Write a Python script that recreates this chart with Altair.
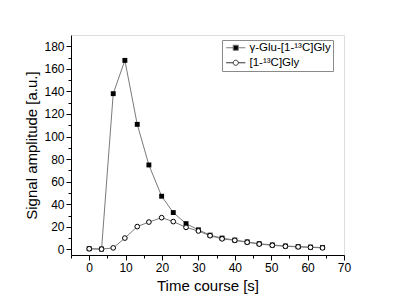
import altair as alt
import pandas as pd

# ---- data ----
time_s = [0, 3.4, 6.6, 9.8, 13.2, 16.4, 19.9, 23.1, 26.6, 30.0,
          33.2, 36.5, 40.0, 43.4, 46.7, 50.3, 53.9, 57.4, 60.8, 64.1]
glu_gly = [0.6, 0.3, 138, 167.5, 110.8, 74.8, 47.1, 32.6, 22.8, 17.3,
           12.6, 10.0, 8.2, 6.6, 5.0, 3.9, 3.0, 2.4, 2.0, 1.6]
gly = [0.5, 0.2, 1.3, 10.0, 20.2, 24.2, 28.1, 24.6, 19.5, 16.3,
       12.1, 9.3, 8.0, 6.3, 4.7, 3.6, 2.7, 2.2, 1.8, 1.3]
series_names = ["γ-Glu-[1-¹³C]Gly", "[1-¹³C]Gly"]

x_major = [0, 10, 20, 30, 40, 50, 60, 70]
x_minor = [-5, 5, 15, 25, 35, 45, 55, 65]
y_major = [0, 20, 40, 60, 80, 100, 120, 140, 160, 180]
y_minor = [10, 30, 50, 70, 90, 110, 130, 150, 170]

rows = []
for t, v in zip(time_s, glu_gly):
    rows.append({"t": t, "value": v, "series": series_names[0]})
for t, v in zip(time_s, gly):
    rows.append({"t": t, "value": v, "series": series_names[1]})
df = pd.DataFrame(rows)

FONT = "Liberation Sans"
xscale = alt.Scale(domain=[-5, 70], nice=False, zero=False)
yscale = alt.Scale(domain=[-5, 190], nice=False, zero=False)

major_x_axis = alt.Axis(values=x_major, title="Time course [s]", grid=False,
                        orient="bottom", tickSize=5, tickColor="black",
                        domainColor="black", labelFontSize=12, labelColor="black",
                        labelPadding=2, titleFontSize=15, titleFontWeight="normal",
                        titleColor="black", titlePadding=5, labelFlush=False)
major_y_axis = alt.Axis(values=y_major, title="Signal amplitude [a.u.]", grid=False,
                        orient="left", tickSize=5, tickColor="black",
                        domainColor="black", labelFontSize=12, labelColor="black",
                        labelPadding=2, titleFontSize=15, titleFontWeight="normal",
                        titleColor="black", titlePadding=4, labelFlush=False)
minor_x_axis = alt.Axis(values=x_minor, title=None, grid=False, orient="bottom",
                        tickSize=3, tickColor="black", labels=False, domain=False)
minor_y_axis = alt.Axis(values=y_minor, title=None, grid=False, orient="left",
                        tickSize=3, tickColor="black", labels=False, domain=False)

base = alt.Chart(df)

lines = base.mark_line(color="#7a7a7a", strokeWidth=1).encode(
    x=alt.X("t:Q", scale=xscale, axis=major_x_axis),
    y=alt.Y("value:Q", scale=yscale, axis=major_y_axis),
    detail="series:N",
)

minor = base.mark_line(opacity=0).encode(
    x=alt.X("t:Q", scale=xscale, axis=minor_x_axis),
    y=alt.Y("value:Q", scale=yscale, axis=minor_y_axis),
    detail="series:N",
)

squares = base.transform_filter(
    alt.datum.series == series_names[0]
).mark_square(size=24, color="black", opacity=1).encode(
    x=alt.X("t:Q", scale=xscale, axis=None),
    y=alt.Y("value:Q", scale=yscale, axis=None),
)

circles = base.transform_filter(
    alt.datum.series == series_names[1]
).mark_point(shape="circle", filled=True, fill="white", stroke="black",
             strokeWidth=1, size=22, opacity=1).encode(
    x=alt.X("t:Q", scale=xscale, axis=None),
    y=alt.Y("value:Q", scale=yscale, axis=None),
)

# legend symbols: a line segment with the marker in the middle
sq_path = ("M-3.2,0L-0.85,0M0.85,0L3.2,0"
           "M-0.85,-0.85L0.85,-0.85L0.85,0.85L-0.85,0.85Z")
ci_path = ("M-3.2,0L-0.85,0M0.85,0L3.2,0"
           "M0.85,0A0.85,0.85 0 1,1 -0.85,0A0.85,0.85 0 1,1 0.85,0Z")

legend = alt.Legend(orient="none", legendX=151, legendY=5, title=None,
                    labelFontSize=11.5, labelColor="black", strokeColor="#8a8a8a",
                    fillColor="white", padding=2, symbolSize=36,
                    symbolStrokeWidth=1, symbolOpacity=1, rowPadding=2,
                    symbolOffset=6, labelOffset=8)

legend_layer = base.mark_point(opacity=0, filled=True).encode(
    x=alt.X("t:Q", scale=xscale, axis=None),
    y=alt.Y("value:Q", scale=yscale, axis=None),
    shape=alt.Shape("series:N", scale=alt.Scale(domain=series_names, range=[sq_path, ci_path]),
                    legend=legend),
    fill=alt.Fill("series:N", scale=alt.Scale(domain=series_names, range=["black", "white"]),
                  legend=legend),
    stroke=alt.Stroke("series:N", scale=alt.Scale(domain=series_names, range=["#7a7a7a", "#333333"]),
                      legend=legend),
    size=alt.value(36),
)

chart = alt.layer(lines, minor, squares, circles, legend_layer).resolve_axis(
    x="independent", y="independent"
).properties(
    width=273, height=220,
    autosize=alt.AutoSizeParams(type="none"),
    padding={"left": 71, "top": 35, "right": 56, "bottom": 51},
    background="white",
).configure_view(
    stroke="black", strokeWidth=1
).configure(
    font=FONT
).configure_axis(
    domainWidth=1, tickWidth=1, labelFont=FONT, titleFont=FONT
).configure_legend(
    labelFont=FONT
)

chart.save("out.html", embed_options={"renderer": "svg", "actions": False})
